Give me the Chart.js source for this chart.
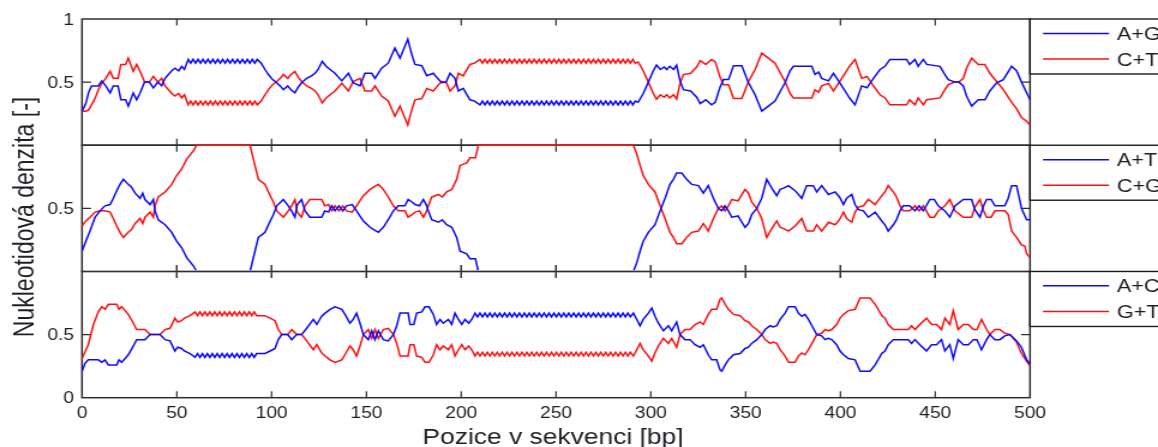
<!DOCTYPE html>
<html>
<head>
<meta charset="utf-8">
<script src="https://cdn.jsdelivr.net/npm/chart.js@4.4.1/dist/chart.umd.min.js"></script>
<style>
  html, body { margin: 0; padding: 0; background: #fff; overflow: hidden; }
  canvas { display: block; }
</style>
</head>
<body>
<canvas id="chart" width="965" height="447" style="width:1158px;height:447px"></canvas>
<script>
// ---- axis ticks ----
const xTicks = [0, 50, 100, 150, 200, 250, 300, 350, 400, 450, 500];
const topYTicks = [0.5, 1];
const midYTicks = [0.5];
const botYTicks = [0, 0.5];

// ---- series names ----
const topNames = ['A+G', 'C+T'];
const midNames = ['A+T', 'C+G'];
const botNames = ['A+C', 'G+T'];

// ---- panel 1: purine / pyrimidine density ----
const topPos = [
  0, 2, 3.5, 5, 7, 8.6, 10.4, 12.5, 14.8, 16.5,
  19, 20.5, 23, 24.4, 27, 28.8, 30.5, 33, 35.5, 37.6,
  40, 42, 43.8, 47.3, 49, 51, 52.5, 54, 56, 57.3,
  58.6, 59.9, 61.2, 62.5, 63.8, 65.1, 66.4, 67.7, 69, 70.3,
  71.6, 72.9, 74.2, 75.5, 76.8, 78.1, 79.4, 80.7, 82, 83.3,
  84.6, 85.9, 87.2, 88.5, 89.8, 91.1, 92.4, 94.5, 96.5, 98.3,
  100.5, 102.7, 104.5, 106.2, 108.5, 110.2, 112.3, 114, 115.8, 118.5,
  121, 122.9, 124.5, 126.7, 128.5, 130, 133.4, 137, 140.5, 143,
  146.6, 149.2, 152.8, 154.5, 158, 161.5, 165, 167.7, 171.8, 173.9,
  175.6, 179.2, 181.8, 185.3, 187.5, 189.7, 192, 194.1, 196.7, 198.5,
  201, 204.6, 207, 209.9, 211.2, 212.5, 213.8, 215.1, 216.4, 217.7,
  219, 220.3, 221.6, 222.9, 224.2, 225.5, 226.8, 228.1, 229.4, 230.7,
  232, 233.3, 234.6, 235.9, 237.2, 238.5, 239.8, 241.1, 242.4, 243.7,
  245, 246.3, 247.6, 248.9, 250.2, 251.5, 252.8, 254.1, 255.4, 256.7,
  258, 259.3, 260.6, 261.9, 263.2, 264.5, 265.8, 267.1, 268.4, 269.7,
  271, 272.3, 273.6, 274.9, 276.2, 277.5, 278.8, 280.1, 281.4, 282.7,
  284, 285.3, 286.6, 287.9, 289.2, 290.5, 291.8, 293.3, 296, 298.7,
  301.3, 303, 305, 307, 308.4, 310, 312, 313.6, 315.4, 317.2,
  321, 324.2, 326, 329, 332, 334, 336.5, 338.3, 341, 343.6,
  348, 351.5, 355, 358.5, 362, 365.5, 368, 370.8, 373.4, 375.2,
  384.9, 386.6, 388.5, 390.1, 393.7, 396.3, 399, 402.4, 405, 407.7,
  411.2, 414, 417.4, 420.9, 423.5, 426.1, 434.9, 436.5, 439.3, 441,
  443.7, 445.5, 452.5, 455.1, 456.9, 460.4, 462.5, 464.8, 466.5, 469.2,
  472.7, 476.2, 478.8, 482.4, 485.9, 490.3, 492.9, 495.5, 498.2, 500
];
const topAG = [
  .27, .33, .42, .47, .47, .47, .51, .47, .415, .47,
  .47, .36, .36, .31, .415, .36, .41, .50, .50, .455,
  .50, .47, .53, .59, .61, .59, .625, .60, .68, .65,
  .68, .65, .68, .65, .68, .65, .68, .65, .68, .65,
  .68, .65, .68, .65, .68, .65, .68, .65, .68, .65,
  .68, .65, .68, .65, .68, .65, .68, .65, .60, .56,
  .52, .495, .47, .44, .47, .44, .415, .46, .495, .53,
  .55, .57, .60, .665, .63, .61, .57, .51, .57, .495,
  .47, .57, .57, .53, .61, .65, .77, .69, .84, .72,
  .64, .63, .55, .57, .53, .495, .50, .57, .53, .43,
  .45, .36, .35, .32, .35, .32, .35, .32, .35, .32,
  .35, .32, .35, .32, .35, .32, .35, .32, .35, .32,
  .35, .32, .35, .32, .35, .32, .35, .32, .35, .32,
  .35, .32, .35, .32, .35, .32, .35, .32, .35, .32,
  .35, .32, .35, .32, .35, .32, .35, .32, .35, .32,
  .35, .32, .35, .32, .35, .32, .35, .32, .35, .32,
  .35, .32, .35, .32, .35, .32, .35, .34, .41, .50,
  .59, .635, .60, .62, .60, .625, .60, .635, .51, .44,
  .43, .38, .33, .36, .32, .34, .46, .52, .52, .63,
  .63, .495, .40, .27, .31, .35, .42, .495, .59, .625,
  .625, .56, .58, .53, .51, .57, .51, .43, .37, .32,
  .47, .455, .53, .60, .625, .68, .68, .64, .68, .625,
  .68, .64, .625, .56, .52, .50, .50, .47, .39, .31,
  .36, .36, .43, .495, .52, .625, .59, .50, .415, .36
];
const topCT = [
  .27, .27, .28, .32, .375, .44, .49, .53, .585, .53,
  .53, .64, .64, .69, .585, .64, .59, .50, .50, .545,
  .50, .53, .47, .41, .39, .41, .375, .40, .32, .35,
  .32, .35, .32, .35, .32, .35, .32, .35, .32, .35,
  .32, .35, .32, .35, .32, .35, .32, .35, .32, .35,
  .32, .35, .32, .35, .32, .35, .32, .35, .40, .44,
  .48, .505, .53, .56, .53, .56, .585, .54, .505, .47,
  .45, .43, .40, .335, .37, .39, .43, .49, .43, .505,
  .53, .43, .43, .47, .39, .35, .23, .31, .16, .28,
  .36, .37, .45, .43, .47, .505, .50, .43, .47, .57,
  .55, .64, .65, .68, .65, .68, .65, .68, .65, .68,
  .65, .68, .65, .68, .65, .68, .65, .68, .65, .68,
  .65, .68, .65, .68, .65, .68, .65, .68, .65, .68,
  .65, .68, .65, .68, .65, .68, .65, .68, .65, .68,
  .65, .68, .65, .68, .65, .68, .65, .68, .65, .68,
  .65, .68, .65, .68, .65, .68, .65, .68, .65, .68,
  .65, .68, .65, .68, .65, .68, .65, .66, .59, .50,
  .41, .365, .40, .38, .40, .375, .40, .365, .49, .56,
  .57, .62, .67, .64, .68, .66, .54, .48, .48, .37,
  .37, .505, .60, .73, .69, .65, .58, .505, .41, .375,
  .375, .44, .42, .47, .49, .43, .49, .57, .63, .68,
  .53, .545, .47, .40, .375, .32, .32, .36, .32, .375,
  .32, .36, .375, .44, .48, .50, .50, .53, .61, .69,
  .64, .64, .57, .505, .44, .34, .29, .22, .19, .16
];

// ---- panel 2: weak / strong density ----
const midPos = [
  0, 2, 4.2, 6.9, 9.5, 12.1, 14.8, 16.5, 18.3, 20,
  21.8, 24.4, 26, 28, 30.6, 32, 33.2, 35.9, 37.6, 38.5,
  40.2, 43.8, 47.3, 49.9, 52.5, 55.2, 58.7, 60.5, 88.6, 91.2,
  93, 96.5, 98.3, 100.9, 102.7, 106.2, 108.8, 110.5, 112.3, 113.5,
  115.8, 117.6, 120.2, 126.4, 128, 130, 131.7, 133.4, 135.5, 137.5,
  139.5, 142.5, 144.8, 146.5, 148.4, 151.9, 154, 156.3, 158.9, 161.5,
  164.2, 166.8, 170.3, 172, 174, 175.6, 178, 180, 181.5, 182.7,
  184.4, 188, 190, 192.3, 195, 197.6, 199.4, 202.9, 204.6, 207.5,
  209, 290.8, 292.6, 294.3, 296, 298.7, 302.2, 304.9, 307.5, 310.1,
  311.9, 313.6, 316.3, 318.9, 321.6, 325.1, 327.7, 330.3, 333, 335.6,
  337.4, 339.1, 340.9, 342.7, 346, 349.7, 351.5, 353.2, 355.9, 358.5,
  361.1, 363.8, 366.4, 368.2, 370, 372.6, 376.1, 379.6, 382.2, 385.7,
  387.5, 390.1, 393.7, 397.2, 399.5, 401.6, 403.3, 406, 407.7, 409.5,
  412.1, 414.7, 418.3, 421.8, 423.5, 425.2, 427.9, 429.6, 431.4, 433.1,
  436.5, 439.3, 441.5, 443.7, 447.2, 449.5, 451.6, 455.1, 457.7, 460.4,
  464.8, 469.2, 470.9, 473.6, 475.5, 477.1, 479.5, 481.5, 486.7, 488.5,
  490.3, 492.9, 495.5, 497.3, 498.2, 500
];
const midAT = [
  .16, .24, .32, .43, .48, .52, .53, .58, .64, .69,
  .73, .69, .67, .62, .58, .62, .57, .53, .57, .48,
  .41, .37, .31, .24, .19, .11, .045, 0, 0, .16,
  .27, .31, .37, .45, .52, .57, .52, .48, .43, .53,
  .57, .48, .43, .43, .48, .47, .52, .48, .52, .48,
  .52, .53, .48, .44, .40, .35, .33, .31, .35, .41,
  .48, .52, .52, .57, .55, .53, .52, .57, .53, .48,
  .41, .39, .41, .37, .35, .27, .16, .14, .10, .10,
  0, 0, .07, .16, .24, .31, .37, .48, .58, .69,
  .73, .78, .78, .73, .69, .68, .62, .68, .58, .50,
  .48, .52, .48, .43, .44, .35, .38, .45, .50, .58,
  .73, .66, .60, .65, .66, .68, .64, .58, .68, .68,
  .63, .68, .61, .63, .59, .53, .58, .61, .53, .49,
  .48, .43, .47, .40, .37, .32, .37, .41, .48, .52,
  .52, .48, .52, .48, .57, .57, .52, .48, .43, .52,
  .57, .57, .49, .43, .52, .57, .57, .52, .52, .58,
  .68, .68, .50, .44, .41, .41
];
const midCG = [
  .36, .40, .43, .47, .48, .48, .47, .42, .36, .31,
  .27, .31, .33, .38, .42, .38, .43, .47, .43, .52,
  .59, .63, .69, .76, .81, .89, .955, 1, 1, .84,
  .73, .69, .63, .55, .48, .43, .48, .52, .57, .47,
  .43, .52, .57, .57, .52, .53, .48, .52, .48, .52,
  .48, .47, .52, .56, .60, .65, .67, .69, .65, .59,
  .52, .48, .48, .43, .45, .47, .48, .43, .47, .52,
  .59, .61, .59, .63, .65, .73, .84, .86, .90, .90,
  1, 1, .93, .84, .76, .69, .63, .52, .42, .31,
  .27, .22, .22, .27, .31, .32, .38, .32, .42, .50,
  .52, .48, .52, .57, .56, .65, .62, .55, .50, .42,
  .27, .34, .40, .35, .34, .32, .36, .42, .32, .32,
  .37, .32, .39, .37, .41, .47, .42, .39, .47, .51,
  .52, .57, .53, .60, .63, .68, .63, .59, .52, .48,
  .48, .52, .48, .52, .43, .43, .48, .52, .57, .48,
  .43, .43, .51, .57, .48, .43, .43, .48, .48, .45,
  .32, .27, .21, .20, .14, .11
];

// ---- panel 3: amino / keto density ----
const botPos = [
  0, 1.5, 3.3, 6, 8.6, 10.4, 12.1, 13.9, 18.3, 19.5,
  20.9, 22.7, 24.4, 27.1, 28.8, 33.2, 35.9, 41.1, 43.8, 46.4,
  49, 50.5, 52.5, 54, 56.9, 59.6, 60.9, 62.2, 63.5, 64.8,
  66.1, 67.4, 68.7, 70, 71.3, 72.6, 73.9, 75.2, 76.5, 77.8,
  79.1, 80.4, 81.7, 83, 84.3, 85.6, 86.9, 88.2, 89.5, 90.8,
  92.1, 96.5, 99.2, 101.8, 103.5, 105.3, 108.5, 110.6, 113.2, 115.8,
  118.5, 122, 123.8, 126.4, 128.2, 130.8, 133.4, 137, 138.7, 141.3,
  143, 144.8, 146.6, 148.4, 151, 152.8, 154.5, 156.3, 158.9, 161.5,
  164.2, 166, 167.7, 172, 173, 175, 176.5, 179.2, 180.9, 183,
  185.3, 187, 188.8, 190.5, 193.2, 195, 196.7, 198.5, 200.3, 202,
  204, 205.5, 207.3, 208.6, 209.9, 211.2, 212.5, 213.8, 215.1, 216.4,
  217.7, 219, 220.3, 221.6, 222.9, 224.2, 225.5, 226.8, 228.1, 229.4,
  230.7, 232, 233.3, 234.6, 235.9, 237.2, 238.5, 239.8, 241.1, 242.4,
  243.7, 245, 246.3, 247.6, 248.9, 250.2, 251.5, 252.8, 254.1, 255.4,
  256.7, 258, 259.3, 260.6, 261.9, 263.2, 264.5, 265.8, 267.1, 268.4,
  269.7, 271, 272.3, 273.6, 274.9, 276.2, 277.5, 278.8, 280.1, 281.4,
  282.7, 284, 285.3, 286.6, 287.9, 289.2, 290.8, 292.6, 294.3, 296,
  298.7, 300.5, 302.2, 304, 306.6, 309.3, 311, 313.6, 315.4, 318,
  320.7, 323.3, 326, 327.7, 330.3, 332.1, 334.7, 336.5, 337.4, 339.2,
  340.9, 343.6, 347.1, 349.7, 351.5, 353.2, 355.9, 358.5, 360.3, 362.9,
  364.5, 366.4, 368.2, 370.8, 372.6, 376.1, 377.8, 379.6, 381.3, 383.1,
  385.7, 387.5, 390.1, 391.9, 393.6, 395.4, 398, 399.8, 401.6, 404.2,
  407.7, 410.4, 415.6, 418.3, 421.8, 423.5, 425.2, 427.9, 432.3, 435.8,
  437.5, 439.3, 441.9, 445.4, 448.1, 450.7, 453.3, 455.1, 457.7, 459.5,
  462.1, 464.8, 467.5, 470.1, 472, 474.4, 477.1, 478.8, 481.5, 484.1,
  486.7, 489.4, 492.9, 495.5, 498.2, 500
];
const botAC = [
  .21, .27, .30, .30, .30, .28, .30, .26, .26, .30,
  .28, .31, .34, .41, .46, .46, .50, .50, .46, .45,
  .37, .40, .39, .37, .35, .32, .35, .32, .35, .32,
  .35, .32, .35, .32, .35, .32, .35, .32, .35, .32,
  .35, .32, .35, .32, .35, .32, .35, .32, .35, .32,
  .35, .35, .37, .39, .46, .50, .50, .46, .50, .50,
  .55, .62, .58, .645, .67, .70, .72, .70, .66, .59,
  .62, .67, .59, .50, .46, .53, .46, .53, .46, .45,
  .50, .57, .67, .67, .58, .58, .67, .68, .72, .72,
  .66, .58, .62, .59, .62, .58, .67, .62, .58, .62,
  .59, .62, .67, .64, .67, .64, .67, .64, .67, .64,
  .67, .64, .67, .64, .67, .64, .67, .64, .67, .64,
  .67, .64, .67, .64, .67, .64, .67, .64, .67, .64,
  .67, .64, .67, .64, .67, .64, .67, .64, .67, .64,
  .67, .64, .67, .64, .67, .64, .67, .64, .67, .64,
  .67, .64, .67, .64, .67, .64, .67, .64, .67, .64,
  .67, .64, .67, .64, .67, .64, .67, .62, .57, .62,
  .67, .71, .645, .59, .53, .57, .53, .60, .50, .46,
  .46, .42, .40, .42, .34, .30, .30, .22, .21, .26,
  .30, .34, .35, .39, .40, .43, .46, .50, .54, .57,
  .56, .57, .62, .67, .72, .72, .67, .645, .66, .62,
  .55, .50, .49, .46, .47, .46, .42, .37, .34, .31,
  .30, .21, .21, .26, .35, .37, .42, .46, .46, .46,
  .43, .46, .42, .37, .42, .42, .46, .37, .42, .31,
  .46, .42, .42, .46, .46, .38, .46, .50, .46, .46,
  .49, .50, .45, .40, .30, .27
];
const botGT = [
  .31, .36, .42, .58, .68, .72, .70, .74, .74, .70,
  .72, .69, .66, .59, .54, .54, .50, .50, .54, .55,
  .63, .60, .61, .63, .65, .68, .65, .68, .65, .68,
  .65, .68, .65, .68, .65, .68, .65, .68, .65, .68,
  .65, .68, .65, .68, .65, .68, .65, .68, .65, .68,
  .65, .65, .63, .61, .54, .50, .50, .54, .50, .50,
  .45, .38, .42, .355, .33, .30, .28, .30, .34, .41,
  .38, .33, .41, .50, .54, .47, .54, .47, .54, .55,
  .50, .43, .33, .33, .42, .42, .33, .32, .28, .28,
  .34, .42, .38, .41, .38, .42, .33, .38, .42, .38,
  .41, .38, .33, .36, .33, .36, .33, .36, .33, .36,
  .33, .36, .33, .36, .33, .36, .33, .36, .33, .36,
  .33, .36, .33, .36, .33, .36, .33, .36, .33, .36,
  .33, .36, .33, .36, .33, .36, .33, .36, .33, .36,
  .33, .36, .33, .36, .33, .36, .33, .36, .33, .36,
  .33, .36, .33, .36, .33, .36, .33, .36, .33, .36,
  .33, .36, .33, .36, .33, .36, .33, .38, .43, .38,
  .33, .29, .355, .41, .47, .43, .47, .40, .50, .54,
  .54, .58, .60, .58, .66, .70, .70, .78, .79, .74,
  .70, .66, .65, .61, .60, .57, .54, .50, .46, .43,
  .44, .43, .38, .33, .28, .28, .33, .355, .34, .38,
  .45, .50, .51, .54, .53, .54, .58, .63, .66, .69,
  .70, .79, .79, .74, .65, .63, .58, .54, .54, .54,
  .57, .54, .58, .63, .58, .58, .54, .63, .58, .69,
  .54, .58, .58, .54, .54, .62, .54, .50, .54, .54,
  .51, .50, .44, .35, .29, .25
];

// ---- look ----
const FONT = "'Liberation Sans', Arial, Helvetica, sans-serif";
const INK = '#1e1e24';
const FRAME = '#2f2f2f';
const BLUE = 'rgb(10,10,255)';
const RED = 'rgb(255,15,15)';
const SX = 1.2;                 // the figure is drawn 1.2x wider on screen than on the canvas
const W = 965, H = 447;         // canvas size in drawing units
const PLOT = { left: 82 / SX, right: 1030 / SX, top: 19, bottom: 397.7 };
const TICK_X = 6.5, TICK_Y = 7.5;

const panels = [
  { axis: 'yTop', ticks: topYTicks, names: topNames },
  { axis: 'yMid', ticks: midYTicks, names: midNames },
  { axis: 'yBot', ticks: botYTicks, names: botNames }
];

function line(label, xs, ys, axis, color) {
  return {
    label, yAxisID: axis,
    data: xs.map((x, i) => ({ x, y: ys[i] })),
    borderColor: color, backgroundColor: color,
    borderWidth: 1.5, pointRadius: 0, pointHoverRadius: 0,
    fill: false, tension: 0, clip: false
  };
}

function panelAxis(weight) {
  return {
    type: 'linear', position: 'left', stack: 'panels', stackWeight: 1, weight,
    min: 0, max: 1, offset: false,
    ticks: { display: false },
    grid: { display: false, drawTicks: false },
    border: { display: false },
    afterFit(s) { s.width = 0; }
  };
}

function edgeTicks(ctx, chart, yPix, dir) {
  const xs = chart.scales.x;
  xTicks.forEach(v => {
    if (v <= xs.min || v >= xs.max) return;
    const px = xs.getPixelForValue(v);
    ctx.moveTo(px, yPix);
    ctx.lineTo(px, yPix + dir * TICK_X);
  });
}

const decor = {
  id: 'decor',
  beforeDatasetsDraw(chart) {
    const ctx = chart.ctx, a = chart.chartArea;
    ctx.save();
    ctx.strokeStyle = FRAME;
    panels.forEach(p => {
      const y = chart.scales[p.axis];
      const top = y.getPixelForValue(1), bot = y.getPixelForValue(0);
      ctx.lineWidth = 1.5;
      ctx.strokeRect(a.left, top, a.right - a.left, bot - top);
      ctx.lineWidth = 1.2;
      ctx.beginPath();
      edgeTicks(ctx, chart, top, 1);
      edgeTicks(ctx, chart, bot, -1);
      p.ticks.forEach(v => {
        if (v <= 0 || v >= 1) return;
        const py = y.getPixelForValue(v);
        ctx.moveTo(a.left, py); ctx.lineTo(a.left + TICK_Y, py);
        ctx.moveTo(a.right, py); ctx.lineTo(a.right - TICK_Y, py);
      });
      ctx.stroke();
    });
    ctx.restore();
  },
  afterDatasetsDraw(chart) {
    const ctx = chart.ctx, a = chart.chartArea;
    ctx.save();

    // the lower panel's top edge sits over the middle panel's trace at 0
    const yb = chart.scales.yBot.getPixelForValue(1);
    ctx.strokeStyle = '#fff'; ctx.lineWidth = 2.6;
    ctx.beginPath(); ctx.moveTo(a.left + 1, yb); ctx.lineTo(a.right - 1, yb); ctx.stroke();
    ctx.strokeStyle = FRAME; ctx.lineWidth = 1.5;
    ctx.beginPath(); ctx.moveTo(a.left, yb); ctx.lineTo(a.right, yb); ctx.stroke();
    ctx.lineWidth = 1.2;
    ctx.beginPath(); edgeTicks(ctx, chart, yb, 1); edgeTicks(ctx, chart, yb, -1); ctx.stroke();

    // legends, one per panel, running off the right edge
    const ds = chart.data.datasets;
    panels.forEach((p, i) => {
      const top = chart.scales[p.axis].getPixelForValue(1);
      const bx = a.right, bw = W - a.right + 6, bh = 55;
      ctx.fillStyle = '#fff';
      ctx.fillRect(bx, top, bw, bh);
      ctx.strokeStyle = '#1a1a1a'; ctx.lineWidth = 1.4;
      ctx.strokeRect(bx, top, bw, bh);
      [0, 1].forEach(k => {
        const d = ds[i * 2 + k];
        const ry = top + (k ? 40 : 14.4);
        ctx.strokeStyle = d.borderColor; ctx.lineWidth = 1.5;
        ctx.beginPath(); ctx.moveTo(1043 / SX, ry); ctx.lineTo(1109 / SX, ry); ctx.stroke();
        ctx.fillStyle = INK;
        ctx.font = `18px ${FONT}`;
        ctx.textAlign = 'left'; ctx.textBaseline = 'alphabetic';
        ctx.fillText(d.label, 1117 / SX, ry + 6.5);
      });
    });

    // tick labels
    ctx.fillStyle = INK;
    ctx.font = `16px ${FONT}`;
    ctx.textBaseline = 'alphabetic';
    ctx.textAlign = 'right';
    panels.forEach(p => {
      const y = chart.scales[p.axis];
      p.ticks.forEach(v => ctx.fillText(String(v), 74 / SX, y.getPixelForValue(v) + 5.7));
    });
    ctx.textAlign = 'center';
    const xs = chart.scales.x;
    xTicks.forEach(v => ctx.fillText(String(v), xs.getPixelForValue(v), 418.3));

    // axis titles
    ctx.font = `22px ${FONT}`;
    ctx.fillText('Pozice v sekvenci [bp]', 553 / SX, 444);
    ctx.translate(33.3 / SX, 217);
    ctx.rotate(-Math.PI / 2);
    ctx.font = `23px ${FONT}`;
    ctx.fillText('Nukleotidová denzita [-]', 0, 0);
    ctx.restore();
  }
};

new Chart(document.getElementById('chart'), {
  type: 'line',
  data: {
    datasets: [
      line(topNames[0], topPos, topAG, 'yTop', BLUE),
      line(topNames[1], topPos, topCT, 'yTop', RED),
      line(midNames[0], midPos, midAT, 'yMid', BLUE),
      line(midNames[1], midPos, midCG, 'yMid', RED),
      line(botNames[0], botPos, botAC, 'yBot', BLUE),
      line(botNames[1], botPos, botGT, 'yBot', RED)
    ]
  },
  options: {
    responsive: false,
    animation: false,
    devicePixelRatio: 1,
    events: [],
    layout: { padding: { left: PLOT.left, right: W - PLOT.right, top: PLOT.top, bottom: H - PLOT.bottom } },
    plugins: { legend: { display: false }, tooltip: { enabled: false } },
    scales: {
      x: {
        type: 'linear', position: 'bottom', min: 0, max: 500,
        ticks: { display: false },
        grid: { display: false, drawTicks: false },
        border: { display: false },
        afterFit(s) { s.height = 0; }
      },
      yTop: panelAxis(3),
      yMid: panelAxis(2),
      yBot: panelAxis(1)
    }
  },
  plugins: [decor]
});
</script>
</body>
</html>
